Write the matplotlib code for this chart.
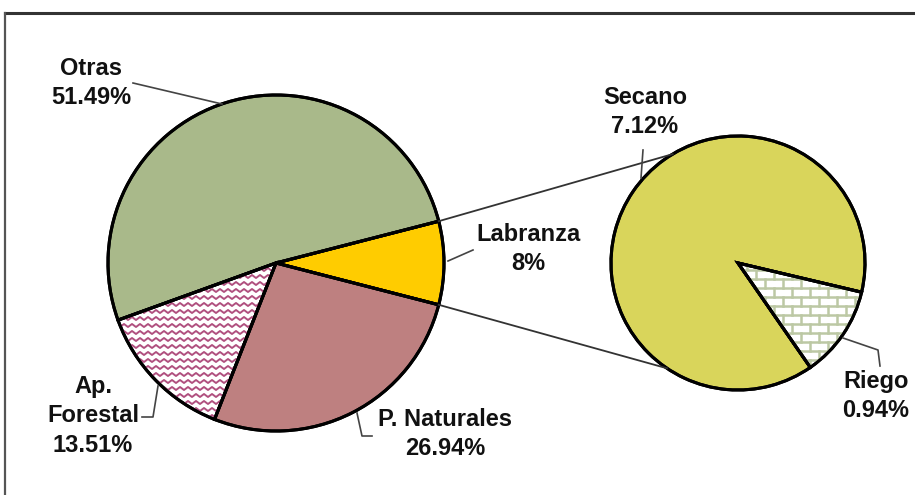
import numpy as np
import matplotlib
matplotlib.use("Agg")
import matplotlib.pyplot as plt
from matplotlib.lines import Line2D

# ---- data ----
main_labels = ["Labranza", "Otras", "Ap.\nForestal", "P. Naturales"]
main_values = [8.0, 51.49, 13.51, 26.94]
main_text = ["8%", "51.49%", "13.51%", "26.94%"]
sub_labels = ["Secano", "Riego"]
sub_values = [7.12, 0.94]
sub_text = ["7.12%", "0.94%"]

W, H = 915, 495
def Y(y):
    return H - y

fig = plt.figure(figsize=(W / 100, H / 100), dpi=100)
ax = fig.add_axes([0, 0, 1, 1])

main_colors = ["#FFCC00", "#A9B98A", "white", "#BE8080"]
sub_colors = ["#D9D55B", "white"]

c1 = (276, Y(263)); r1 = 168
c2 = (738, Y(263)); r2 = 127

start1 = -main_values[0] / sum(main_values) * 360 / 2
w1, _ = ax.pie(main_values, colors=main_colors, startangle=start1, counterclock=True,
               center=c1, radius=r1, frame=True,
               wedgeprops=dict(edgecolor="black", linewidth=2.2))
w2, _ = ax.pie(sub_values, colors=sub_colors, startangle=-13.3, counterclock=True,
               center=c2, radius=r2, frame=True,
               wedgeprops=dict(edgecolor="black", linewidth=2.2))

# zigzag texture for Ap. Forestal
wf = w1[2]
xs = np.arange(0, W, 4.0)
for yy in np.arange(0, H, 7.0):
    zz = yy + np.where((np.arange(len(xs)) % 2) == 0, 0, 3.0)
    ln = Line2D(xs, zz, color="#B0507F", lw=1.4, zorder=1.5)
    ax.add_line(ln)
    ln.set_clip_path(wf)
# brick texture for Riego
wr = w2[1]
for i, yy in enumerate(np.arange(0, H, 9.0)):
    ln = Line2D([0, W], [yy, yy], color="#BCC8A4", lw=1.8, zorder=1.5)
    ax.add_line(ln); ln.set_clip_path(wr)
    off = 0 if i % 2 == 0 else 9
    for xx in np.arange(off, W, 18.0):
        ln = Line2D([xx, xx], [yy, yy + 9], color="#BCC8A4", lw=1.8, zorder=1.5)
        ax.add_line(ln); ln.set_clip_path(wr)
for w in list(w1) + list(w2):
    w.set_zorder(1)
# redraw edges on top
for w in list(w1) + list(w2):
    p = matplotlib.patches.Wedge(w.center, w.r, w.theta1, w.theta2, fill=False,
                                 edgecolor="black", linewidth=2.2, zorder=2)
    ax.add_patch(p)

# connector lines
a_up = np.deg2rad(start1 + main_values[0] / sum(main_values) * 360)
a_dn = np.deg2rad(start1)
for a1, a2 in [(a_up, np.deg2rad(121)), (a_dn, np.deg2rad(-124))]:
    ax.plot([c1[0] + r1 * np.cos(a1), c2[0] + r2 * np.cos(a2)],
            [c1[1] + r1 * np.sin(a1), c2[1] + r2 * np.sin(a2)],
            color="#333333", lw=1.3, zorder=3)

# labels
fs = 17
font = dict(fontsize=fs, fontweight="bold", family="Liberation Sans",
            ha="center", va="center", color="#111111", linespacing=1.38, zorder=4)
label_pos = [(528, 249), (91, 83), (93, 416), (445, 434)]
leaders = [
    [(473, 250), (448, 261)],
    [(133, 83), (222, 104)],
    [(142, 417), (153, 417), (158, 386)],
    [(372, 436), (362, 436), (357, 413)],
]
for lab, txt, (px, py), ld in zip(main_labels, main_text, label_pos, leaders):
    ax.text(px, Y(py), lab + "\n" + txt, **font)
    ax.plot([p[0] for p in ld], [Y(p[1]) for p in ld], color="#444444", lw=1.2, zorder=3)

sub_pos = [(645, 112), (876, 396)]
sub_leaders = [
    [(643, 150), (641, 178)],
    [(843, 338), (878, 350), (880, 366)],
]
for lab, txt, (px, py), ld in zip(sub_labels, sub_text, sub_pos, sub_leaders):
    ax.text(px, Y(py), lab + "\n" + txt, **font)
    ax.plot([p[0] for p in ld], [Y(p[1]) for p in ld], color="#444444", lw=1.2, zorder=3)

# frame
ax.plot([5, W], [Y(13), Y(13)], color="#333333", lw=2.2, zorder=5)
ax.plot([5, 5], [Y(13), 0], color="#555555", lw=1.6, zorder=5)

ax.set_xlim(0, W)
ax.set_ylim(0, H)
ax.set_aspect("equal")
ax.axis("off")
fig.savefig("out.png", dpi=100)
